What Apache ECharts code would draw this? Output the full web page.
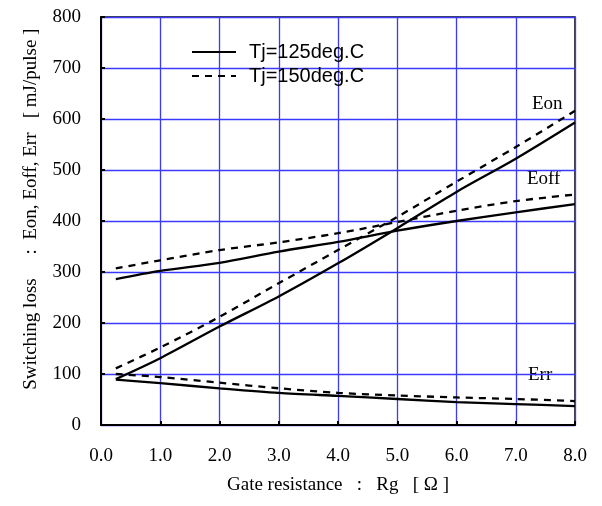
<!DOCTYPE html>
<html>
<head>
<meta charset="utf-8">
<script src="https://cdn.jsdelivr.net/npm/echarts@6/dist/echarts.min.js"></script>
<style>
  html, body { margin: 0; padding: 0; background: #fff; }
  #chart { width: 602px; height: 506px; }
</style>
</head>
<body>
<div id="chart"></div>
<script>
// Gate resistance [ohm]
const rg = [0.25, 1, 2, 3, 4, 5, 6, 7, 8];

// Switching losses [mJ/pulse]
const eon125  = [90, 131, 193, 252, 317, 386, 457, 522, 593];
const eon150  = [111, 152, 212, 278, 343, 408, 477, 545, 616];
const eoff125 = [286, 302, 318, 340, 359, 381, 400, 417, 433];
const eoff150 = [307, 323, 343, 358, 376, 398, 420, 439, 452];
const err125  = [89, 82, 72, 63, 57, 51, 45, 41, 37];
const err150  = [100, 94, 83, 72, 63, 58, 54, 51, 47];

const legendNames = ['Tj=125deg.C', 'Tj=150deg.C'];
const curveLabels = ['Eon', 'Eoff', 'Err'];

const serif = 'Liberation Serif';
const pairs = (ys) => rg.map((x, i) => [x, ys[i]]);

function curve(name, ys, dashed) {
  return {
    name: name,
    type: 'line',
    data: pairs(ys),
    smooth: 0.3,
    symbol: 'none',
    lineStyle: { color: '#000', width: 2.3, type: dashed ? [7, 6] : 'solid' },
    itemStyle: { color: '#000' },
    emphasis: { disabled: true }
  };
}

const labelFont = '19px "Liberation Serif"';
const nb = '\u00a0';

const chart = echarts.init(document.getElementById('chart'));
chart.setOption({
  animation: false,
  grid: { left: 101, right: 27, top: 17, bottom: 81, show: true, borderColor: '#000', borderWidth: 1.5 },
  legend: {
    data: legendNames,
    orient: 'vertical',
    left: 186, top: 37,
    itemWidth: 44, itemHeight: 22, itemGap: 4,
    itemStyle: { opacity: 0 },
    textStyle: { fontFamily: 'Liberation Sans', fontSize: 20, color: '#000', padding: [0, 0, 0, 8] }
  },
  xAxis: {
    type: 'value', min: 0, max: 8, interval: 1,
    name: 'Gate resistance   :   Rg   [ Ω ]',
    nameLocation: 'middle', nameGap: 51,
    nameTextStyle: { fontFamily: serif, fontSize: 19, color: '#000' },
    axisLine: { lineStyle: { color: '#000', width: 2 } },
    axisTick: { inside: true, length: 4, lineStyle: { color: '#000', width: 2 } },
    axisLabel: { fontFamily: serif, fontSize: 19, color: '#000', margin: 22, formatter: (v) => v.toFixed(1) },
    splitLine: { lineStyle: { color: '#3a3aff', width: 1.3 } }
  },
  yAxis: {
    type: 'value', min: 0, max: 800, interval: 100,
    name: nb.repeat(5) + 'Switching loss     :  Eon, Eoff, Err   [ mJ/pulse ]',
    nameLocation: 'middle', nameGap: 60,
    nameTextStyle: { fontFamily: serif, fontSize: 19, color: '#000' },
    axisLine: { show: true, lineStyle: { color: '#000', width: 2 } },
    axisTick: { show: true, inside: true, length: 4, lineStyle: { color: '#000', width: 2 } },
    axisLabel: { fontFamily: serif, fontSize: 19, color: '#000', margin: 20 },
    splitLine: { lineStyle: { color: '#3a3aff', width: 1.3 } }
  },
  graphic: [
    { type: 'text', left: 532, top: 95, style: { text: curveLabels[0], font: labelFont, fill: '#000' } },
    { type: 'text', left: 527, top: 170, style: { text: curveLabels[1], font: labelFont, fill: '#000' } },
    { type: 'text', left: 528, top: 366, style: { text: curveLabels[2], font: labelFont, fill: '#000' } }
  ],
  series: [
    curve(legendNames[0], eon125, false),
    curve(legendNames[1], eon150, true),
    curve(legendNames[0], eoff125, false),
    curve(legendNames[1], eoff150, true),
    curve(legendNames[0], err125, false),
    curve(legendNames[1], err150, true)
  ]
});
</script>
</body>
</html>
